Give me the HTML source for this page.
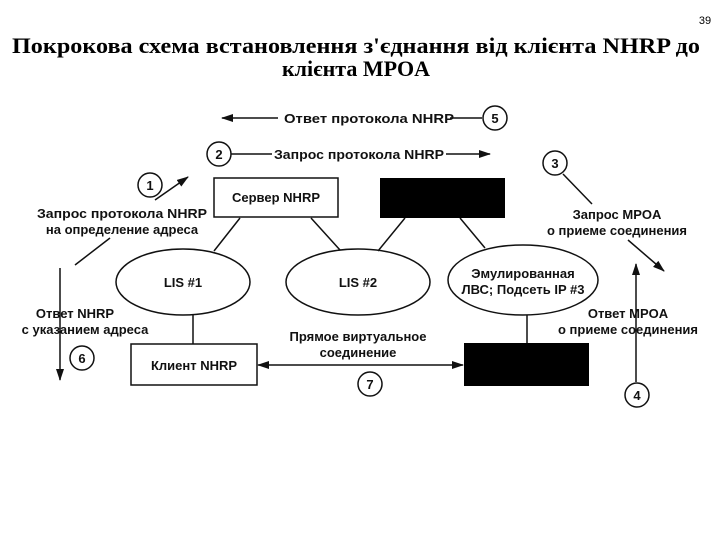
<!DOCTYPE html>
<html><head><meta charset="utf-8"><style>
body{margin:0;background:#fff;}
svg{display:block;}
.t{font-family:"Liberation Sans",sans-serif;font-weight:bold;font-size:13px;fill:#111;}
</style></head><body>
<svg width="720" height="540" viewBox="0 0 720 540">
<defs><marker id="a" markerWidth="12" markerHeight="8" refX="11" refY="4" orient="auto" markerUnits="userSpaceOnUse"><path d="M0,0 L12,4 L0,8 Z" fill="#111"/></marker>
<marker id="b" markerWidth="12" markerHeight="8" refX="1" refY="4" orient="auto" markerUnits="userSpaceOnUse"><path d="M12,0 L0,4 L12,8 Z" fill="#111"/></marker></defs>
<text x="705" y="24" font-family="Liberation Sans,sans-serif" font-size="11" text-anchor="middle">39</text>
<g font-family="Liberation Serif,serif" font-weight="bold" font-size="22" text-anchor="middle" fill="#000">
<text x="356" y="53" textLength="688" lengthAdjust="spacingAndGlyphs">Покрокова схема встановлення з'єднання від клієнта NHRP до</text>
<text x="356" y="76">клієнта MPOA</text></g>
<g stroke="#111" stroke-width="1.5" fill="none">
<line x1="278" y1="118" x2="222" y2="118" marker-end="url(#a)"/>
<line x1="450" y1="118" x2="482" y2="118"/>
<circle cx="495" cy="118" r="12"/>
<circle cx="219" cy="154" r="12"/>
<line x1="231" y1="154" x2="272" y2="154"/>
<line x1="446" y1="154" x2="490" y2="154" marker-end="url(#a)"/>
<circle cx="555" cy="163" r="12"/>
<line x1="563" y1="174" x2="592" y2="204"/>
<line x1="628" y1="240" x2="664" y2="271" marker-end="url(#a)"/>
<circle cx="150" cy="185" r="12"/>
<line x1="155" y1="200" x2="188" y2="177" marker-end="url(#a)"/>
<line x1="75" y1="265" x2="110" y2="238"/>
<rect x="214" y="178" width="124" height="39"/>
<ellipse cx="183" cy="282" rx="67" ry="33"/>
<ellipse cx="358" cy="282" rx="72" ry="33"/>
<ellipse cx="523" cy="280" rx="75" ry="35"/>
<line x1="240" y1="218" x2="214" y2="251"/>
<line x1="311" y1="218" x2="340" y2="250"/>
<line x1="405" y1="218" x2="378" y2="251"/>
<line x1="460" y1="218" x2="485" y2="248"/>
<line x1="193" y1="315" x2="193" y2="344"/>
<line x1="527" y1="315" x2="527" y2="343"/>
<rect x="131" y="344" width="126" height="41"/>
<line x1="258" y1="365" x2="463" y2="365" marker-start="url(#b)" marker-end="url(#a)"/>
<circle cx="370" cy="384" r="12"/>
<line x1="60" y1="268" x2="60" y2="380" marker-end="url(#a)"/>
<circle cx="82" cy="358" r="12"/>
<line x1="636" y1="382" x2="636" y2="264" marker-end="url(#a)"/>
<circle cx="637" cy="395" r="12"/>
</g>
<rect x="380" y="178" width="125" height="40" fill="#000"/>
<rect x="464" y="343" width="125" height="43" fill="#000"/>
<g class="t" text-anchor="middle">
<text x="369" y="123" textLength="170" lengthAdjust="spacingAndGlyphs">Ответ протокола NHRP</text>
<text x="359" y="159" textLength="170" lengthAdjust="spacingAndGlyphs">Запрос протокола NHRP</text>
<text x="495" y="123">5</text><text x="219" y="159">2</text><text x="555" y="168">3</text>
<text x="150" y="190">1</text><text x="370" y="389">7</text><text x="82" y="363">6</text><text x="637" y="400">4</text>
<text x="617" y="219">Запрос MPOA</text>
<text x="617" y="235">о приеме соединения</text>
<text x="122" y="218" textLength="170" lengthAdjust="spacingAndGlyphs">Запрос протокола NHRP</text>
<text x="122" y="234">на определение адреса</text>
<text x="276" y="202">Сервер NHRP</text>
<text x="183" y="287">LIS #1</text>
<text x="358" y="287">LIS #2</text>
<text x="523" y="278">Эмулированная</text>
<text x="523" y="294">ЛВС; Подсеть IP #3</text>
<text x="194" y="370">Клиент NHRP</text>
<text x="358" y="341">Прямое виртуальное</text>
<text x="358" y="357">соединение</text>
<text x="75" y="318">Ответ NHRP</text>
<text x="85" y="334">с указанием адреса</text>
<text x="628" y="318">Ответ MPOA</text>
<text x="628" y="334">о приеме соединения</text>
</g>
</svg>
</body></html>
